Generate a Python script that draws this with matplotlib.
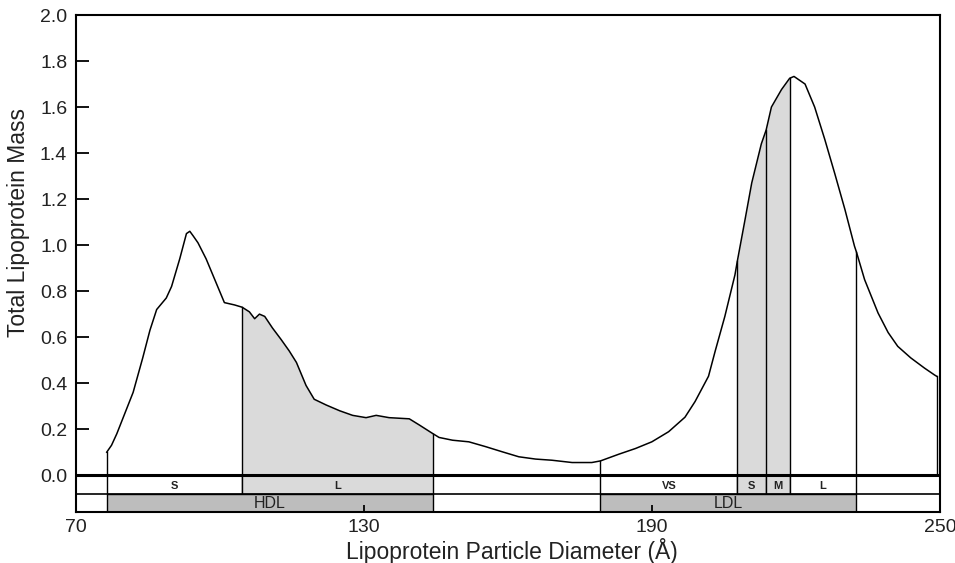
import numpy as np
import matplotlib
matplotlib.use("Agg")
import matplotlib.pyplot as plt
from matplotlib.patches import Rectangle

plt.rcParams['font.family'] = ['Liberation Sans', 'DejaVu Sans']

# Particle size distribution
diam = [76.5, 77.5, 78.6, 80.3, 82.0, 84.0, 85.5, 86.9, 88.9, 90.0, 91.7, 93.1,
        93.8, 94.5, 95.5, 97.2, 99.0, 101.0, 103.1, 104.7, 106.2, 107.3, 108.3,
        109.4, 111.0, 112.8, 114.5, 116.0, 118.0, 119.7, 122.2, 125.0, 127.7,
        130.5, 132.6, 135.3, 139.5, 141.6, 142.2, 144.3, 145.7, 148.5, 151.9,
        155.4, 158.8, 162.3, 165.8, 169.2, 173.4, 177.5, 179.3, 183.1, 186.6,
        190.0, 193.5, 196.9, 199.0, 201.8, 203.2, 205.2, 207.3, 207.8, 209.4,
        210.8, 212.8, 213.8, 214.9, 217.0, 218.7, 219.6, 221.9, 223.9, 226.0,
        228.1, 230.2, 232.2, 232.6, 234.3, 237.1, 239.2, 241.2, 243.9, 246.8,
        248.9, 249.3]
mass = [0.10, 0.13, 0.18, 0.27, 0.36, 0.51, 0.63, 0.72, 0.77, 0.82, 0.94, 1.05,
        1.06, 1.04, 1.01, 0.94, 0.85, 0.75, 0.74, 0.73, 0.71, 0.68, 0.70,
        0.69, 0.64, 0.59, 0.54, 0.49, 0.39, 0.33, 0.305, 0.28, 0.26,
        0.25, 0.26, 0.25, 0.245, 0.218, 0.21, 0.182, 0.164, 0.152, 0.145,
        0.124, 0.102, 0.080, 0.070, 0.065, 0.055, 0.055, 0.062, 0.091, 0.116,
        0.145, 0.189, 0.252, 0.32, 0.43, 0.54, 0.69, 0.87, 0.93, 1.11,
        1.27, 1.44, 1.50, 1.60, 1.676, 1.725, 1.733, 1.70, 1.60, 1.46,
        1.31, 1.155, 0.995, 0.97, 0.85, 0.705, 0.62, 0.56, 0.51, 0.465,
        0.435, 0.43]

# subclasses (upper band) and classes (lower band)
sub_names = ["S", "L", "VS", "S", "M", "L"]
sub_start = [76.5, 104.7, 179.3, 207.8, 213.8, 218.7]
sub_end = [104.7, 144.5, 207.8, 213.8, 218.7, 232.6]
sub_shaded = [False, True, False, True, True, False]

cls_names = ["HDL", "LDL"]
cls_start = [76.5, 179.3]
cls_end = [144.5, 232.6]

xticks = [70, 130, 190, 250]
yticks = [0.0, 0.2, 0.4, 0.6, 0.8, 1.0, 1.2, 1.4, 1.6, 1.8, 2.0]

diam = np.array(diam)
mass = np.array(mass)

fig = plt.figure(figsize=(9.55, 5.63), dpi=100)
ax = fig.add_axes([75.5 / 955, 51 / 563, 864.5 / 955, 497 / 563])

light = '#dadada'
dark = '#bdbdbd'
band_h = 0.08

# shaded areas under the curve
for s, e, sh in zip(sub_start, sub_end, sub_shaded):
    if sh:
        m = (diam >= s) & (diam <= e)
        ax.fill_between(diam[m], 0, mass[m], color=light, lw=0)

ax.plot(diam, mass, color='black', lw=1.1)

# vertical dividers from zero to the curve
edges = sorted(set(sub_start + sub_end + [diam[0], diam[-1]]))
for x in edges:
    ax.plot([x, x], [0, np.interp(x, diam, mass)], color='black', lw=1.0)

# band rows below zero
ax.axhline(0, color='black', lw=2.2)
ax.axhline(-band_h, color='black', lw=1.2)
for name, s, e, sh in zip(sub_names, sub_start, sub_end, sub_shaded):
    ax.add_patch(Rectangle((s, -band_h), e - s, band_h,
                           facecolor=light if sh else 'white',
                           edgecolor='black', lw=1.0))
    ax.text((s + e) / 2, -0.047, name, ha='center', va='center',
            fontsize=8, fontweight='bold', color='#222222')
for name, s, e in zip(cls_names, cls_start, cls_end):
    ax.add_patch(Rectangle((s, -2 * band_h), e - s, band_h,
                           facecolor=dark, edgecolor='black', lw=1.0))
    ax.text((s + e) / 2, -0.125, name, ha='center', va='center',
            fontsize=11.5, color='#222222')

ax.set_xlim(70, 250)
ax.set_ylim(-0.16, 2.0)
ax.set_xticks(xticks)
ax.set_xticklabels([str(v) for v in xticks])
ax.set_yticks(yticks)
ax.set_yticklabels([f"{v:.1f}" for v in yticks])
ax.tick_params(axis='y', direction='in', length=9.5, width=1.3,
               labelsize=14, pad=6, labelcolor='#222222')
ax.tick_params(axis='x', direction='in', length=5, width=1.3,
               labelsize=14, pad=5, labelcolor='#222222')
for sp in ax.spines.values():
    sp.set_linewidth(1.5)

ax.set_xlabel("Lipoprotein Particle Diameter (Å)", fontsize=16.5, color='#222222')
ax.set_ylabel("Total Lipoprotein Mass", fontsize=16.5, color='#222222')
ax.xaxis.set_label_coords(0.505, -0.052)
ax.yaxis.set_label_coords(-0.053, 0.583)

fig.savefig("out.png", dpi=100)
